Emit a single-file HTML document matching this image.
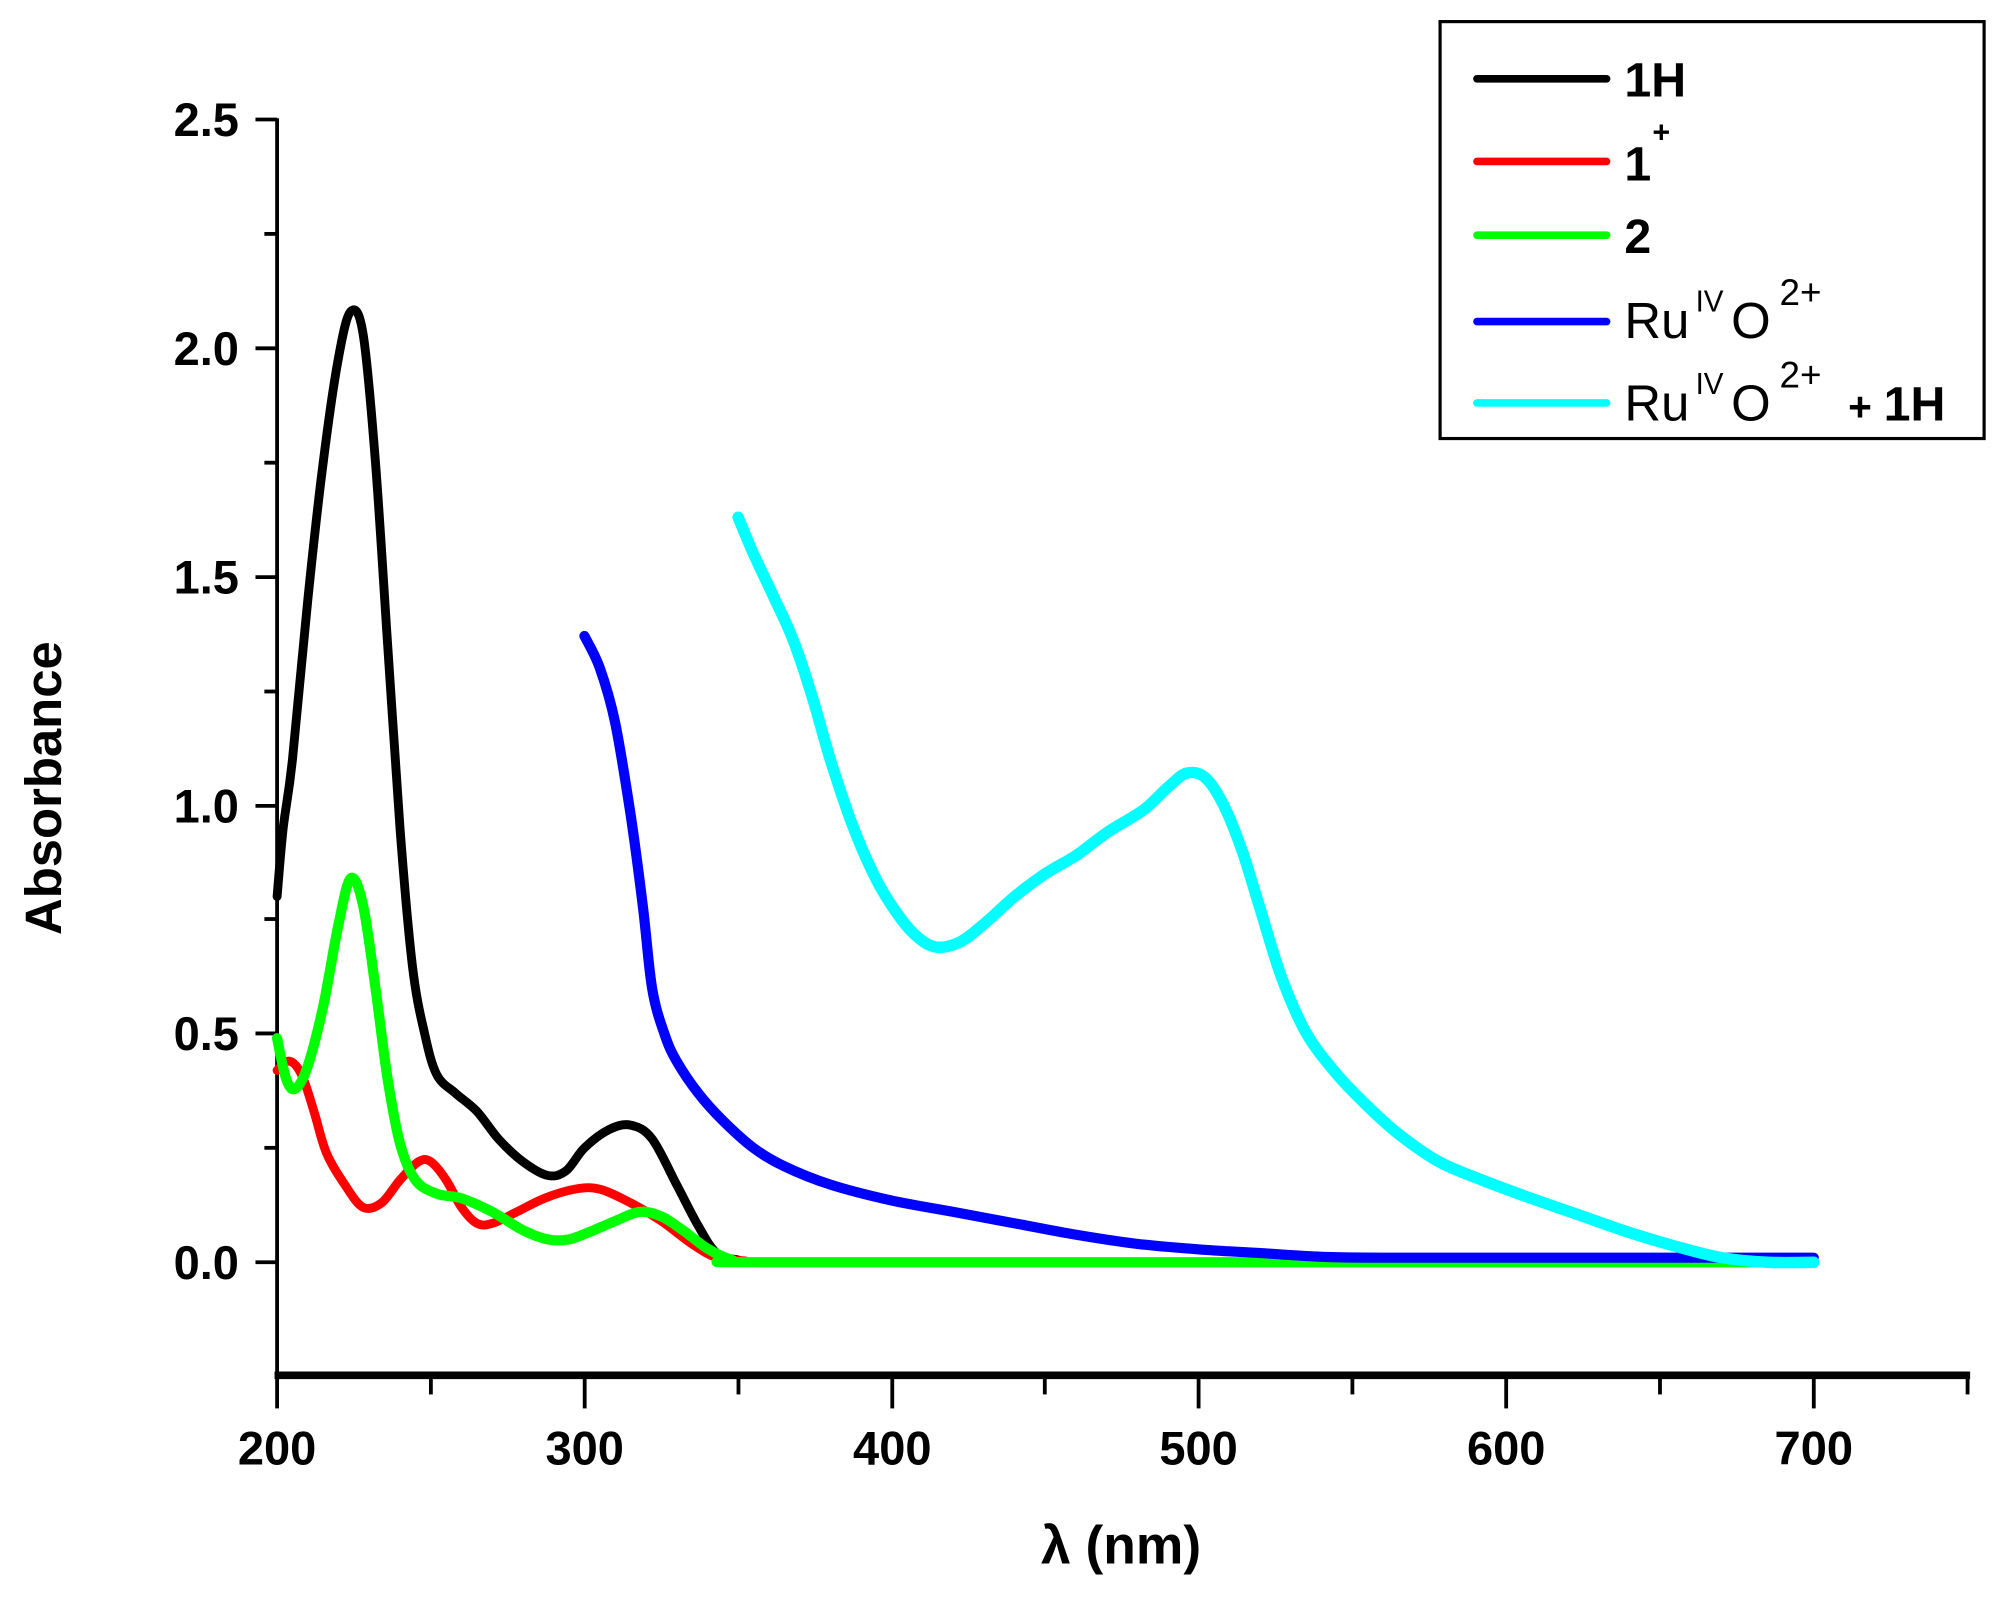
<!DOCTYPE html>
<html><head><meta charset="utf-8"><style>
html,body{margin:0;padding:0;background:#fff;width:1993px;height:1601px;overflow:hidden}
svg{display:block}
text{font-family:"Liberation Sans",Arial,sans-serif;fill:#000}
</style></head><body>
<svg width="1993" height="1601" viewBox="0 0 1568 1259.5" preserveAspectRatio="none">
<line x1="218" y1="93" x2="218" y2="1083" stroke="#000" stroke-width="3"/>
<line x1="216" y1="1082" x2="1550" y2="1082" stroke="#000" stroke-width="6"/>
<g stroke="#000" stroke-width="3">
<line x1="201" y1="94" x2="218" y2="94"/><line x1="208" y1="184" x2="218" y2="184"/>
<line x1="201" y1="274" x2="218" y2="274"/><line x1="208" y1="364" x2="218" y2="364"/>
<line x1="201" y1="454" x2="218" y2="454"/><line x1="208" y1="544" x2="218" y2="544"/>
<line x1="201" y1="634" x2="218" y2="634"/><line x1="208" y1="723" x2="218" y2="723"/>
<line x1="201" y1="813" x2="218" y2="813"/><line x1="208" y1="903" x2="218" y2="903"/>
<line x1="201" y1="993" x2="218" y2="993"/>
<line x1="218" y1="1082" x2="218" y2="1108"/><line x1="339" y1="1082" x2="339" y2="1097"/>
<line x1="460" y1="1082" x2="460" y2="1108"/><line x1="581" y1="1082" x2="581" y2="1097"/>
<line x1="702" y1="1082" x2="702" y2="1108"/><line x1="822" y1="1082" x2="822" y2="1097"/>
<line x1="943" y1="1082" x2="943" y2="1108"/><line x1="1064" y1="1082" x2="1064" y2="1097"/>
<line x1="1185" y1="1082" x2="1185" y2="1108"/><line x1="1306" y1="1082" x2="1306" y2="1097"/>
<line x1="1427" y1="1082" x2="1427" y2="1108"/><line x1="1548" y1="1082" x2="1548" y2="1097"/>
</g>
<g font-size="37" font-weight="bold" text-anchor="end">
<text x="188" y="107">2.5</text><text x="188" y="287">2.0</text><text x="188" y="467">1.5</text>
<text x="188" y="647">1.0</text><text x="188" y="826">0.5</text><text x="188" y="1006">0.0</text>
</g>
<g font-size="37" font-weight="bold" text-anchor="middle">
<text x="218" y="1152">200</text><text x="460" y="1152">300</text><text x="702" y="1152">400</text>
<text x="943" y="1152">500</text><text x="1185" y="1152">600</text><text x="1427" y="1152">700</text>
</g>
<text x="882" y="1230" font-size="42" font-weight="bold" text-anchor="middle">λ (nm)</text>
<text transform="translate(48,620) rotate(-90)" font-size="40" font-weight="bold" text-anchor="middle">Absorbance</text>
<g id="data" fill="none" stroke-linejoin="round" stroke-linecap="round">
<path id="k" stroke="#000" stroke-width="7"/>
<path id="r" stroke="#f00" stroke-width="7"/>
<path id="g" stroke="#00ff00" stroke-width="8"/>
<path id="b" stroke="#0000ff" stroke-width="8"/>
<path id="c" stroke="#00ffff" stroke-width="9"/>
</g>
<rect x="1133" y="17" width="428" height="328" fill="none" stroke="#000" stroke-width="2.5"/>
<g stroke-width="6" stroke-linecap="round">
<line x1="1162" y1="62" x2="1264" y2="62" stroke="#000"/>
<line x1="1162" y1="127" x2="1264" y2="127" stroke="#f00"/>
<line x1="1162" y1="185" x2="1264" y2="185" stroke="#00ff00"/>
<line x1="1162" y1="253" x2="1264" y2="253" stroke="#0000ff"/>
<line x1="1162" y1="317" x2="1264" y2="317" stroke="#00ffff"/>
</g>
<text x="1278" y="76" font-size="38" font-weight="bold">1H</text>
<text x="1278" y="142" font-size="38" font-weight="bold">1</text>
<text x="1300" y="112" font-size="24" font-weight="bold">+</text>
<text x="1278" y="199" font-size="38" font-weight="bold">2</text>
<text x="1278" y="266" font-size="40">Ru</text><text x="1334" y="245" font-size="24" textLength="22" lengthAdjust="spacingAndGlyphs">IV</text>
<text x="1362" y="266" font-size="40">O</text><text x="1400" y="240" font-size="29">2+</text>
<text x="1278" y="331" font-size="40">Ru</text><text x="1334" y="310" font-size="24" textLength="22" lengthAdjust="spacingAndGlyphs">IV</text>
<text x="1362" y="331" font-size="40">O</text><text x="1400" y="305" font-size="29">2+</text>
<text x="1454" y="331" font-size="32" font-weight="bold">+</text>
<text x="1482" y="331" font-size="38" font-weight="bold">1H</text>
</svg>
<script>
function P(x,a){return [218+(x-200)*2.418, 993-a*359.6];}
function build(id,pts){
 var p=[];for(var i=0;i<pts.length;i+=2)p.push(P(pts[i],pts[i+1]));
 var d="M"+p[0][0].toFixed(1)+","+p[0][1].toFixed(1);
 for(var i=0;i<p.length-1;i++){
  var p0=p[i-1]||p[i],p1=p[i],p2=p[i+1],p3=p[i+2]||p2;
  var c1=[p1[0]+(p2[0]-p0[0])/6,p1[1]+(p2[1]-p0[1])/6];
  var c2=[p2[0]-(p3[0]-p1[0])/6,p2[1]-(p3[1]-p1[1])/6];
  d+="C"+c1[0].toFixed(1)+","+c1[1].toFixed(1)+" "+c2[0].toFixed(1)+","+c2[1].toFixed(1)+" "+p2[0].toFixed(1)+","+p2[1].toFixed(1);
 }
 document.getElementById(id).setAttribute("d",d);
}
build("k",[200,0.8,202,0.95,205,1.1,210,1.45,215,1.75,220,1.98,224,2.08,228,2.03,232,1.75,236,1.35,240,0.95,244,0.65,248,0.5,252,0.41,258,0.37,265,0.33,272,0.27,280,0.22,288,0.19,294,0.2,300,0.25,308,0.29,315,0.3,322,0.27,330,0.17,337,0.08,343,0.02,350,0.005,360,0,500,0,690,0]);
build("r",[200,0.42,204,0.44,208,0.41,212,0.33,216,0.24,222,0.17,228,0.12,234,0.13,240,0.18,246,0.22,250,0.22,255,0.18,260,0.12,265,0.085,270,0.085,278,0.11,287,0.14,297,0.16,305,0.16,315,0.13,325,0.09,335,0.04,343,0.01,352,0.003,360,0,465,0]);
build("g",[200,0.49,203,0.4,206,0.38,210,0.43,215,0.56,220,0.74,224,0.84,228,0.78,232,0.6,236,0.4,240,0.26,245,0.18,252,0.15,260,0.14,270,0.11,280,0.07,288,0.05,295,0.05,303,0.07,310,0.09,318,0.11,325,0.1,332,0.07,340,0.03,348,0.005,356,0,500,0,690,0]);
build("b",[300,1.37,305,1.3,310,1.18,315,0.98,319,0.78,322,0.6,326,0.5,330,0.44,337,0.37,345,0.31,355,0.25,365,0.21,380,0.17,400,0.135,420,0.11,440,0.085,460,0.06,480,0.04,500,0.028,520,0.02,540,0.012,560,0.01,630,0.01,700,0.01]);
build("c",[350,1.63,355,1.55,362,1.45,368,1.36,374,1.24,380,1.1,387,0.96,394,0.85,400,0.78,407,0.72,414,0.69,422,0.7,430,0.74,440,0.8,450,0.85,460,0.89,470,0.94,482,0.99,490,1.04,496,1.07,502,1.06,508,1.0,514,0.9,520,0.77,527,0.62,535,0.5,545,0.41,555,0.34,565,0.28,578,0.22,592,0.18,608,0.14,625,0.1,640,0.065,655,0.035,670,0.01,685,0,700,0]);
</script>
</body></html>
